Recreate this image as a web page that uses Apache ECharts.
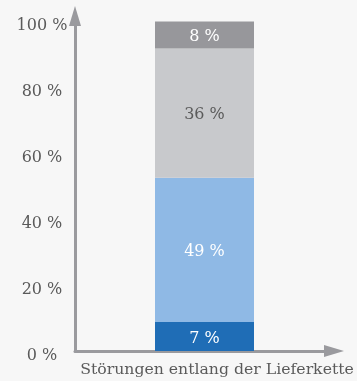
<!DOCTYPE html>
<html><head><meta charset="utf-8">
<script src="https://cdn.jsdelivr.net/npm/echarts@6/dist/echarts.min.js"></script>
<style>html,body{margin:0;padding:0;background:#f7f7f7}#c{width:357px;height:381px}</style>
</head><body><div id="c"></div>
<script>
const categories = ['Störungen entlang der Lieferkette'];
const segmentNames = ['Segment 1', 'Segment 2', 'Segment 3', 'Segment 4'];
const segmentValues = [8.8, 43.8, 39.2, 8.2];
const segmentLabels = ['7 %', '49 %', '36 %', '8 %'];
const segmentColors = ['#1f6db6', '#8fb9e5', '#c8c9cc', '#97979b'];
const labelColors = ['#ffffff', '#ffffff', '#5a5a5a', '#ffffff'];
const yTicks = [0, 20, 40, 60, 80, 100];

const font = 'DejaVu Serif';
const axisColor = '#9a9a9e';
const chart = echarts.init(document.getElementById('c'));
chart.setOption({
  backgroundColor: '#f7f7f7',
  animation: false,
  grid: { left: 75, right: 23, top: 16, bottom: 30, containLabel: false, outerBoundsMode: 'none' },
  xAxis: {
    type: 'category', data: categories,
    axisLine: { show: true, symbol: ['none', 'triangle'], symbolSize: [12, 20], lineStyle: { color: axisColor, width: 3 } },
    axisTick: { show: false },
    axisLabel: { fontFamily: font, fontSize: 15.7, color: '#5a5a5a', margin: 11, padding: [0, 0, 0, 25], hideOverlap: false }
  },
  yAxis: {
    type: 'value', min: 0, max: 101.7, interval: 20,
    splitLine: { show: false },
    axisLine: { show: true, symbol: ['none', 'triangle'], symbolSize: [12, 20], lineStyle: { color: axisColor, width: 3 } },
    axisTick: { show: false },
    axisLabel: {
      fontFamily: font, fontSize: 16, color: '#5a5a5a', margin: 33, align: 'center',
      verticalAlign: 'top', lineHeight: 9,
      formatter: v => yTicks.indexOf(v) >= 0 ? v + ' %' : ''
    }
  },
  series: segmentValues.map((v, i) => ({
    name: segmentNames[i], type: 'bar', stack: 'total', barWidth: 99,
    data: [v],
    itemStyle: { color: segmentColors[i] },
    label: {
      show: true, position: 'inside', formatter: segmentLabels[i], offset: [0, 2],
      fontFamily: font, fontSize: 16, color: labelColors[i]
    }
  }))
});
</script></body></html>
